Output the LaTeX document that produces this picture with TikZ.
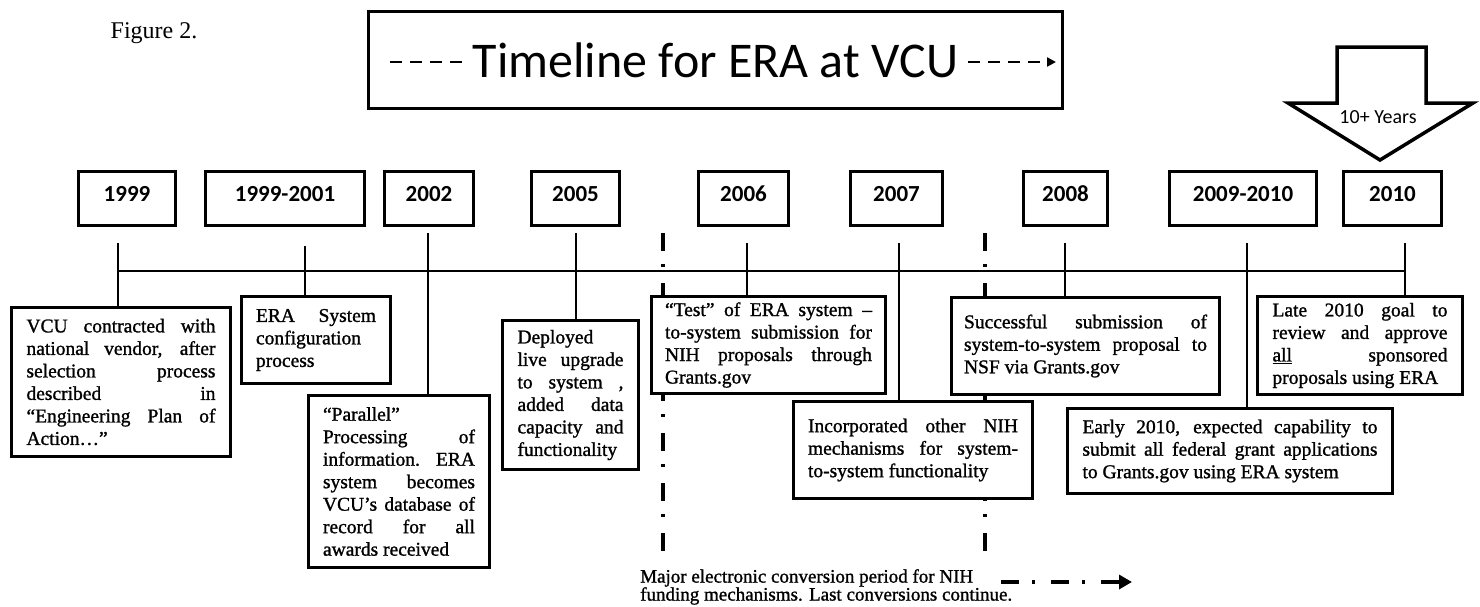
\documentclass[tikz,border=0pt]{standalone}
\usepackage{fontspec}
\setmainfont{Liberation Serif}
\newfontfamily\calibrifont{Carlito}
\newfontfamily\heavyserif{Liberation Serif}[FakeBold=1.2]
\usetikzlibrary{arrows.meta, positioning, calc}
\hyphenpenalty=10000
\tolerance=10000
\newcommand{\evfont}{\heavyserif\fontsize{19.5}{22.5}\selectfont}

\begin{document}
\begin{tikzpicture}[
    x=1pt, y=-1pt,
    yearbox/.style={rectangle, draw, line width=2.5pt, minimum height=54pt, text height=15pt, text depth=8.5pt, font=\calibrifont\bfseries\fontsize{23}{27}\selectfont},
    evbox/.style={rectangle, draw, line width=3.5pt, fill=white, inner sep=3pt, align=justify, font=\evfont},
    stem/.style={line width=1.3pt},
    convline/.style={line width=4pt, dash pattern=on 18pt off 13pt on 3pt off 16pt},
    titledash/.style={line width=2.5pt, dash pattern=on 12pt off 8pt}
]
\useasboundingbox (0,0) rectangle (1480,606);

% Heading
\node[font=\fontsize{24}{28}\selectfont] (fig) at (154,33) {Figure 2.};
\node[draw, line width=3pt, minimum width=694pt, minimum height=97pt, font=\calibrifont\fontsize{50}{60}\selectfont] (title) at (715.5,60) {Timeline for ERA at VCU};
\draw[titledash] ($(title.west)+(23,2)$) -- ++(78,0);
\draw[titledash, -{Triangle[length=9pt,width=9pt]}] ($(title.east)+(-96,2)$) -- ++(88,0);

% 10+ years arrow
\draw[line width=3.5pt, fill=white] (1337,47) -- (1426,47) -- (1426,103) -- (1473,103) -- (1380,160) -- (1288,103) -- (1337,103) -- cycle;
\node[font=\calibrifont\fontsize{20}{24}\selectfont] (yrs) at (1378,117) {10+ Years};

% Year boxes
\node[yearbox, minimum width=97pt] (y1999) at (127,198.5) {1999};
\node[yearbox, minimum width=159pt] (y1999b) at (285,198.5) {1999-2001};
\node[yearbox, minimum width=89pt] (y2002) at (429,198.5) {2002};
\node[yearbox, minimum width=88pt] (y2005) at (575.5,198.5) {2005};
\node[yearbox, minimum width=90pt] (y2006) at (743.5,198.5) {2006};
\node[yearbox, minimum width=92pt] (y2007) at (896.5,198.5) {2007};
\node[yearbox, minimum width=84pt] (y2008) at (1065.5,198.5) {2008};
\node[yearbox, minimum width=147pt] (y2009) at (1243,198.5) {2009-2010};
\node[yearbox, minimum width=98pt] (y2010) at (1392.5,198.5) {2010};

% NIH conversion period
\coordinate (convA) at (663,233);
\coordinate (convB) at (985,233);
\draw[convline] (convA) -- ++(0,323);
\draw[convline] (convB) -- ++(0,323);

% Time line
\coordinate (lineL) at (118,271);
\coordinate (lineR) at (1405,271);
\draw[stem] (lineL) -- (lineR);

% Events
\node[evbox, text width=189pt, minimum width=219pt, minimum height=149pt] (vcu) at (121,382) {VCU contracted with\linebreak national vendor, after\linebreak selection process\linebreak described in\linebreak “Engineering Plan of\linebreak Action…”};
\node[evbox, text width=120pt, minimum width=149pt, minimum height=87pt] (config) at (316,340) {ERA System configuration process};
\node[evbox, text width=152pt, minimum width=181pt, minimum height=172pt] (parallel) at (399,481.5) {“Parallel” Processing of information. ERA system becomes VCU’s database of\linebreak record for all awards received};
\node[evbox, text width=106pt, minimum width=136pt, minimum height=149pt] (deployed) at (570.5,395) {Deployed live upgrade to system , added data capacity and functionality};
\node[evbox, text width=207pt, minimum width=234pt, minimum height=97pt] (test) at (768.5,345) {“Test” of ERA system –\linebreak to-system submission for NIH proposals through Grants.gov};
\node[evbox, text width=210pt, minimum width=239pt, minimum height=97pt] (incorp) at (913,450) {Incorporated other NIH mechanisms for system-\linebreak to-system functionality\par\vspace{10pt}};
\node[evbox, text width=243pt, minimum width=268pt, minimum height=97pt] (success) at (1085.5,346) {Successful submission of system-to-system proposal to NSF via Grants.gov};
\node[evbox, text width=175pt, minimum width=205pt, minimum height=98pt] (late) at (1360,345.5) {Late 2010 goal to review and approve\linebreak \underline{all} sponsored proposals using ERA};
\node[evbox, text width=295pt, minimum width=325pt, minimum height=85pt] (early) at (1230,451) {Early 2010, expected capability to submit all federal grant applications\linebreak to Grants.gov using ERA system};

% Stems from the time line
\coordinate (s1999) at (118,243);
\coordinate (s1999b) at (305,246);
\coordinate (s2002) at (428,233);
\coordinate (s2005) at (576,233);
\coordinate (s2006) at (747,243);
\coordinate (s2007) at (899,243);
\coordinate (s2008) at (1065,243);
\coordinate (s2009) at (1247,243);
\coordinate (s2010) at (1405,243);
\draw[stem] (s1999) -- (s1999 |- vcu.north);
\draw[stem] (s1999b) -- (s1999b |- config.north);
\draw[stem] (s2002) -- (s2002 |- parallel.north);
\draw[stem] (s2005) -- (s2005 |- deployed.north);
\draw[stem] (s2006) -- (s2006 |- test.north);
\draw[stem] (s2007) -- (s2007 |- incorp.north);
\draw[stem] (s2008) -- (s2008 |- success.north);
\draw[stem] (s2009) -- (s2009 |- early.north);
\draw[stem] (s2010) -- (s2010 |- late.north);

% Note at the bottom
\node[anchor=north west, inner sep=0pt, align=left, font=\heavyserif\fontsize{19}{18}\selectfont] (note) at (640,569) {Major electronic conversion period for NIH\\funding mechanisms. Last conversions continue.};
\coordinate (noteend) at (1132,582);
\draw[convline, -{Triangle[length=13pt,width=14pt]}] (1001,582) -- (noteend);

\end{tikzpicture}
\end{document}
